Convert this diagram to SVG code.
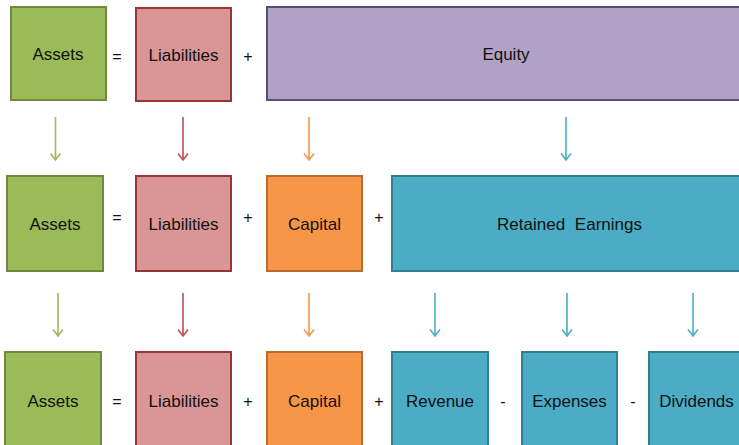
<svg xmlns="http://www.w3.org/2000/svg" width="739" height="445" viewBox="0 0 739 445">
<defs>
<style>
.lbl{font-family:"Liberation Sans",Arial,sans-serif;font-size:17px;fill:#111;text-anchor:middle}
.op{font-family:"Liberation Sans",Arial,sans-serif;font-size:16px;fill:#111;text-anchor:middle}
.g{fill:#9BBB59;stroke:#71893F;stroke-width:2}
.r{fill:#D99694;stroke:#953735;stroke-width:2}
.p{fill:#B2A1C7;stroke:#5F497A;stroke-width:2}
.o{fill:#F79646;stroke:#B66D31;stroke-width:2}
.b{fill:#4BACC6;stroke:#357D91;stroke-width:2}
.ar{fill:none;stroke-width:1.6}
.ag{stroke:#9BBB59}.arr{stroke:#C0504D}.ao{stroke:#F79646}.ab{stroke:#4BACC6}
</style>
</defs>
<rect width="739" height="445" fill="#fff"/>
<!-- Row 1 -->
<g id="assets1"><rect class="g" x="11" y="7" width="95" height="93"/><text class="lbl" x="58" y="60">Assets</text></g>
<g id="liabilities1"><rect class="r" x="136" y="8" width="95" height="93"/><text class="lbl" x="183.5" y="61">Liabilities</text></g>
<g id="equity"><rect class="p" x="267" y="7" width="480" height="93"/><text class="lbl" x="506" y="60">Equity</text></g>
<g id="ops1"><text class="op" x="117" y="62">=</text><text class="op" x="248" y="62">+</text></g>
<!-- Row 2 -->
<g id="assets2"><rect class="g" x="7" y="176" width="96" height="95"/><text class="lbl" x="55" y="230">Assets</text></g>
<g id="liabilities2"><rect class="r" x="136" y="176" width="95" height="95"/><text class="lbl" x="183.5" y="230">Liabilities</text></g>
<g id="capital2"><rect class="o" x="267" y="176" width="95" height="95"/><text class="lbl" x="314.5" y="230">Capital</text></g>
<g id="retained"><rect class="b" x="392" y="176" width="360" height="95"/><text class="lbl" x="569.5" y="230" word-spacing="5">Retained Earnings</text></g>
<g id="ops2"><text class="op" x="117" y="223">=</text><text class="op" x="248" y="223">+</text><text class="op" x="379" y="223">+</text></g>
<!-- Row 3 -->
<g id="assets3"><rect class="g" x="5" y="352" width="96" height="110"/><text class="lbl" x="53" y="407">Assets</text></g>
<g id="liabilities3"><rect class="r" x="136" y="352" width="95" height="110"/><text class="lbl" x="183.5" y="407">Liabilities</text></g>
<g id="capital3"><rect class="o" x="267" y="352" width="95" height="110"/><text class="lbl" x="314.5" y="407">Capital</text></g>
<g id="revenue"><rect class="b" x="392" y="352" width="96" height="110"/><text class="lbl" x="440" y="407">Revenue</text></g>
<g id="expenses"><rect class="b" x="522" y="352" width="95" height="110"/><text class="lbl" x="569.5" y="407">Expenses</text></g>
<g id="dividends"><rect class="b" x="649" y="352" width="100" height="110"/><text class="lbl" x="696.5" y="407">Dividends</text></g>
<g id="ops3"><text class="op" x="117" y="407">=</text><text class="op" x="248" y="407">+</text><text class="op" x="379" y="407">+</text><text class="op" x="503" y="407">-</text><text class="op" x="633" y="407">-</text></g>
<!-- Connectors -->
<g id="connectors">
<path class="ar ag" d="M55.5 117V160M50.5 153.5L55.5 160L60.5 153.5"/>
<path class="ar arr" d="M183 117V160M178 153.5L183 160L188 153.5"/>
<path class="ar ao" d="M309 117V160M304 153.5L309 160L314 153.5"/>
<path class="ar ab" d="M566 117V160M561 153.5L566 160L571 153.5"/>
<path class="ar ag" d="M58 293V336M53 329.5L58 336L63 329.5"/>
<path class="ar arr" d="M183 293V336M178 329.5L183 336L188 329.5"/>
<path class="ar ao" d="M309 293V336M304 329.5L309 336L314 329.5"/>
<path class="ar ab" d="M435 293V336M430 329.5L435 336L440 329.5"/>
<path class="ar ab" d="M567 293V336M562 329.5L567 336L572 329.5"/>
<path class="ar ab" d="M693 293V336M688 329.5L693 336L698 329.5"/>
</g>
</svg>
